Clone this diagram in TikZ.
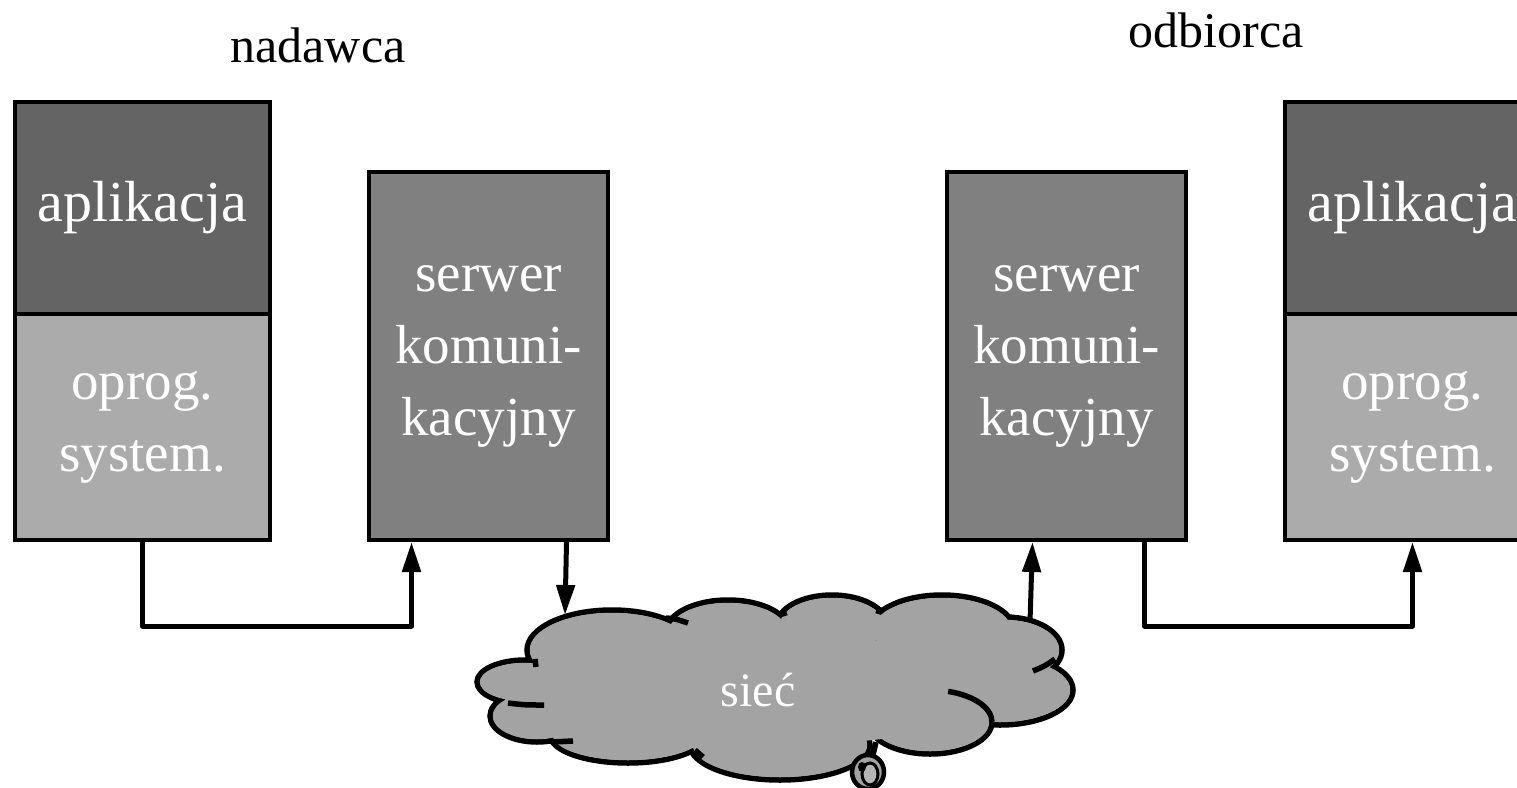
\documentclass[tikz,border=0pt]{standalone}
\usepackage{fontspec}
\setmainfont{Liberation Serif}
\usetikzlibrary{arrows.meta}
\definecolor{appdark}{HTML}{646464}
\definecolor{applight}{HTML}{ABABAB}
\definecolor{srvgray}{HTML}{808080}
\definecolor{cloudgray}{HTML}{A3A3A3}
\tikzset{
  boxbase/.style={draw=black, line width=4pt, inner sep=0pt, anchor=north west,
    text=white, align=center, font=\fontsize{55}{72}\selectfont},
  apptop/.style={boxbase, fill=appdark, minimum width=255pt, minimum height=212pt,
    font=\fontsize{58}{72}\selectfont},
  appbot/.style={boxbase, fill=applight, minimum width=255pt, minimum height=226pt},
  srvbox/.style={boxbase, fill=srvgray, minimum width=239pt, minimum height=368pt},
  title/.style={font=\fontsize{50}{60}\selectfont, text=black},
  conn/.style={line width=5pt, line join=round, -{Triangle[length=30pt,width=18pt]}},
  lobe/.style={line width=5.5pt},
  stub/.style={line width=5.5pt, line cap=butt},
}
\begin{document}
\begin{tikzpicture}[x=1pt,y=-1pt]
\useasboundingbox (0,0) rectangle (1517,787);
\clip (0,0) rectangle (1517,787);
\fill[white] (0,0) rectangle (1517,787);

% titles
\node[title] (tL) at (318,45) {nadawca};
\node[title] (tR) at (1216,30) {odbiorca};

% left station
\node[apptop] (appLt) at (13,100) {aplikacja};
\node[appbot] (appLb) at (13,312) {oprog.\\system.};
\node[srvbox] (srvL) at (367,170) {serwer\\komuni-\\kacyjny};

% right station
\node[srvbox] (srvR) at (945,170) {serwer\\komuni-\\kacyjny};
\node[apptop] (appRt) at (1283,100) {aplikacja};
\node[appbot] (appRb) at (1283,312) {oprog.\\system.};

% cloud: outlines of lobes, then fill over interior strokes
\draw[lobe, fill=cloudgray]
  (612,650) ellipse [x radius=85, y radius=40]
  (728,632) ellipse [x radius=62, y radius=32]
  (832,625) ellipse [x radius=55, y radius=30]
  (942,630) ellipse [x radius=72, y radius=35]
  (1005,650) ellipse [x radius=57, y radius=33]
  (1000,690) ellipse [x radius=73, y radius=35]
  (930,722) ellipse [x radius=62, y radius=32]
  (780,745) ellipse [x radius=90, y radius=35]
  (628,735) ellipse [x radius=78, y radius=28]
  (537,716) ellipse [x radius=47, y radius=26]
  (525,682) ellipse [x radius=48, y radius=22];
\fill[cloudgray]
  (612,650) ellipse [x radius=82.2, y radius=37.2]
  (728,632) ellipse [x radius=59.2, y radius=29.2]
  (832,625) ellipse [x radius=52.2, y radius=27.2]
  (942,630) ellipse [x radius=69.2, y radius=32.2]
  (1005,650) ellipse [x radius=54.2, y radius=30.2]
  (1000,690) ellipse [x radius=70.2, y radius=32.2]
  (930,722) ellipse [x radius=59.2, y radius=29.2]
  (780,745) ellipse [x radius=87.2, y radius=32.2]
  (628,735) ellipse [x radius=75.2, y radius=25.2]
  (537,716) ellipse [x radius=44.2, y radius=23.2]
  (525,682) ellipse [x radius=45.2, y radius=19.2]
  (775,690) ellipse [x radius=235, y radius=55];
% interior stubs
\draw[stub] (666,618) .. controls (676,619) .. (688,623);
\draw[stub] (535,659) -- (536,667);
\draw[stub] (508,703) .. controls (525,705) .. (544,705);
\draw[stub] (552,742) -- (573,741);
\draw[stub] (695,750) -- (703,757);
\draw[stub] (783,610) -- (785,616);
\draw[stub] (880,607) -- (878,614);
\draw[stub] (1055,659) .. controls (1045,666) .. (1033,671);
\draw[stub] (930,722) ++(-73:62 and 32) arc[start angle=-73, end angle=0, x radius=62, y radius=32];
\draw[stub] (873,755) -- (876,742);
% small bubble
\draw[line width=4.5pt, fill=cloudgray] (868,772) ellipse [x radius=16, y radius=17];
\draw[line width=3pt, fill=cloudgray!80!white] (870,774) ellipse [x radius=8, y radius=11];
\fill[black] (862,767) ellipse [x radius=4, y radius=5];

\node[text=white, font=\fontsize{48}{56}\selectfont] (net) at (758,690) {sieć};

\coordinate (cinL) at (565,615);
\coordinate (coutR) at (1030,622);

% connectors
\draw[conn] (appLb.south) -- ++(0,84) -| ([xshift=-77pt]srvL.south);
\draw[conn] ([xshift=78pt]srvL.south) -- (cinL);
\draw[conn] (coutR) -- ([xshift=-34pt]srvR.south);
\draw[conn] ([xshift=78pt]srvR.south) -- ++(0,84) -| (appRb.south);
\end{tikzpicture}
\end{document}
